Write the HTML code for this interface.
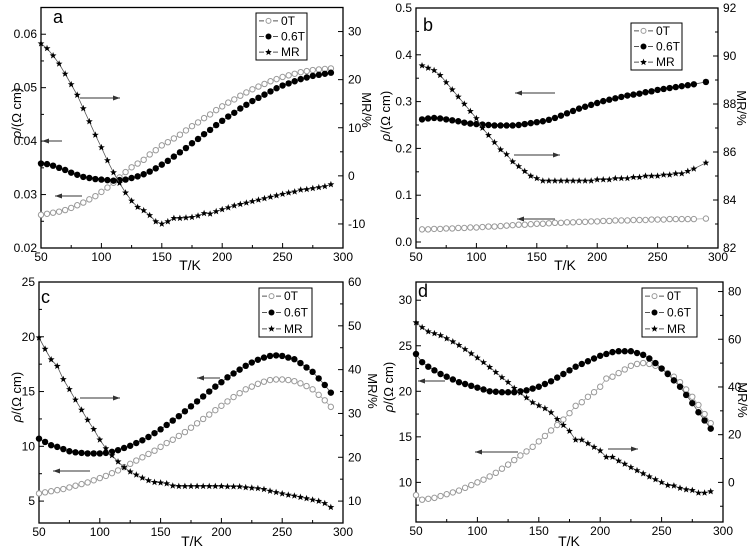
<!DOCTYPE html>
<html><head><meta charset="utf-8"><style>
html,body{margin:0;padding:0;background:#fff;}
svg{display:block;font-family:"Liberation Sans",sans-serif;}
</style></head><body>
<svg id="fig" width="751" height="550" viewBox="0 0 751 550" xmlns="http://www.w3.org/2000/svg"></svg>
<script>
const T_A=[50,55,60,65,70,75,80,85,90,95,100,105,110,115,120,125,130,135,140,145,150,155,160,165,170,175,180,185,190,195,200,205,210,215,220,225,230,235,240,245,250,255,260,265,270,275,280,285,290];
const A_0T=[.0262,.0264,.0266,.0268,.0271,.0275,.0280,.0285,.0291,.0297,.0305,.0313,.0322,.0332,.0342,.0351,.0358,.0365,.0375,.0383,.0392,.0398,.0405,.0412,.0420,.0428,.0435,.0443,.0450,.0458,.0465,.0472,.0478,.0485,.0491,.0497,.0502,.0507,.0512,.0516,.0520,.0523,.0526,.0529,.0531,.0533,.0534,.0535,.0536];
const A_06T=[.0358,.0357,.0354,.0350,.0346,.0341,.0337,.0333,.0331,.0329,.0328,.0327,.0326,.0327,.0328,.0331,.0334,.0338,.0343,.0349,.0356,.0363,.0371,.0379,.0387,.0396,.0404,.0413,.0421,.0430,.0438,.0446,.0453,.0461,.0468,.0475,.0481,.0487,.0493,.0499,.0504,.0508,.0512,.0516,.0519,.0522,.0524,.0526,.0528];
const A_MR=[27.5,26.5,25,23.3,21.2,19,16.8,14,11.3,8.5,5.9,3.2,0.7,-1.5,-3.5,-5.2,-6.5,-7.2,-8.2,-9.5,-10,-9.5,-8.8,-8.8,-8.7,-8.6,-8.3,-7.8,-7.9,-7.4,-7.0,-6.6,-6.2,-5.9,-5.6,-5.3,-5.0,-4.7,-4.4,-4.1,-3.8,-3.5,-3.3,-2.9,-2.8,-2.6,-2.4,-2.2,-1.8];

const T_B=[55,60,65,70,75,80,85,90,95,100,105,110,115,120,125,130,135,140,145,150,155,160,165,170,175,180,185,190,195,200,205,210,215,220,225,230,235,240,245,250,255,260,265,270,275,280,290];
const B_0T=[.027,.027,.028,.028,.029,.029,.030,.030,.031,.031,.032,.033,.033,.034,.035,.036,.037,.037,.038,.039,.039,.040,.041,.041,.042,.042,.043,.043,.044,.044,.045,.045,.046,.046,.046,.047,.047,.047,.048,.048,.048,.049,.049,.049,.049,.049,.050];
const B_06T=[.262,.264,.265,.264,.262,.260,.258,.255,.253,.252,.251,.250,.249,.249,.249,.249,.250,.252,.254,.256,.258,.261,.265,.270,.275,.280,.285,.289,.293,.297,.301,.304,.307,.310,.313,.315,.317,.320,.322,.325,.327,.329,.331,.333,.335,.337,.342];
const B_MR=[89.6,89.5,89.4,89.2,88.9,88.6,88.3,88.0,87.7,87.4,87.0,86.7,86.4,86.1,85.9,85.6,85.4,85.2,85.0,84.9,84.8,84.8,84.8,84.8,84.8,84.8,84.8,84.8,84.8,84.85,84.85,84.85,84.9,84.9,84.9,84.95,84.95,85.0,85.0,85.0,85.05,85.05,85.1,85.1,85.2,85.3,85.55];

const T_C=T_A;
const C_0T=[5.7,5.8,5.9,6.0,6.1,6.25,6.4,6.55,6.7,6.9,7.1,7.3,7.55,7.8,8.1,8.4,8.7,9.0,9.3,9.6,9.95,10.3,10.6,10.95,11.3,11.7,12.1,12.5,12.9,13.3,13.7,14.1,14.5,14.85,15.2,15.45,15.7,15.9,16.05,16.1,16.1,16.05,15.95,15.75,15.5,15.2,14.7,14.2,13.6];
const C_06T=[10.7,10.4,10.1,9.95,9.75,9.55,9.45,9.4,9.35,9.35,9.35,9.4,9.5,9.65,9.85,10.05,10.3,10.55,10.85,11.2,11.55,11.95,12.35,12.75,13.2,13.65,14.1,14.55,15.0,15.45,15.85,16.3,16.65,17.0,17.35,17.65,17.9,18.1,18.25,18.3,18.25,18.1,17.95,17.6,17.2,16.8,16.2,15.6,14.9];
const C_MR=[47.3,44.7,42.3,40.8,37.8,35.5,33.1,30.8,28.5,26.4,24,22,20.4,19,17.7,16.7,16,15.3,14.7,14.3,14.2,14.0,13.5,13.4,13.4,13.4,13.4,13.4,13.4,13.4,13.4,13.3,13.3,13.3,13.1,13.0,12.9,12.7,12.3,12.0,11.7,11.4,11.2,10.9,10.6,10.3,10.0,9.5,8.6];

const T_D=T_A;
const D_0T=[8.6,8.1,8.2,8.3,8.5,8.7,8.9,9.1,9.4,9.7,10.0,10.3,10.65,11.05,11.5,11.95,12.45,12.95,13.4,13.9,14.5,15.1,15.7,16.3,16.9,17.6,18.4,18.8,19.4,19.9,20.5,21.4,21.6,22.0,22.4,22.8,23.0,23.1,23.0,22.8,22.5,22.0,21.6,21.0,20.2,19.4,18.5,17.5,16.5];
const D_06T=[24.1,23.2,22.7,22.3,21.9,21.6,21.3,21.0,20.8,20.6,20.4,20.2,20.0,19.95,19.9,19.9,19.9,20.0,20.1,20.3,20.5,20.8,21.1,21.5,21.9,22.3,22.7,23.0,23.3,23.6,23.9,24.1,24.3,24.4,24.4,24.4,24.2,24.0,23.6,23.1,22.5,21.9,21.2,20.5,19.6,18.7,17.7,16.8,15.9];
const D_MR=[67,65,63.2,62.4,61.6,60.3,59,57.5,55.8,54,52.2,50.3,48.3,46.2,44,42,39.5,37.5,35.5,33.5,32.2,31,29.3,26.5,24,21.5,17.8,17.8,16.3,14.8,13.3,10.6,10.6,9.0,7.7,6.3,5.0,3.7,2.4,1.2,0,-1.2,-1.4,-2.4,-3.0,-3.3,-4.4,-4.4,-3.8];

const XTICKS=[50,100,150,200,250,300];
const A_LT=[0.02,0.03,0.04,0.05,0.06], A_RT=[-10,0,10,20,30];
const B_LT=[0.0,0.1,0.2,0.3,0.4,0.5], B_RT=[82,84,86,88,90,92];
const C_LT=[5,10,15,20,25], C_RT=[10,20,30,40,50,60];
const D_LT=[10,15,20,25,30], D_RT=[0,20,40,60,80];

const NS="http://www.w3.org/2000/svg";
const svg=document.getElementById('fig');
function mk(tag,attrs,parent){const e=document.createElementNS(NS,tag);for(const k in attrs)e.setAttribute(k,attrs[k]);(parent||svg).appendChild(e);return e;}
function txt(s,x,y,size,anchor,parent,rot){const t=mk('text',{x:x,y:y,'font-size':size,'text-anchor':anchor||'middle',fill:'#000'},parent);if(rot)t.setAttribute('transform','rotate('+rot+' '+x+' '+y+')');t.textContent=s;return t;}
function star(cx,cy,r){let p=[];for(let i=0;i<10;i++){const a=-Math.PI/2+i*Math.PI/5;const rr=i%2?r*0.42:r;p.push((cx+rr*Math.cos(a)).toFixed(1)+','+(cy+rr*Math.sin(a)).toFixed(1));}return p.join(' ');}

function panel(o){
  const g=mk('g',{});
  
  
  const L=o.box[0],R=o.box[1],Tp=o.box[2],B=o.box[3];
  const sx=v=>L+(v-50)/250*(R-L);
  const syl=v=>B-(v-o.yl[0])/(o.yl[1]-o.yl[0])*(B-Tp);
  const syr=v=>B-(v-o.yr[0])/(o.yr[1]-o.yr[0])*(B-Tp);
  const fr=mk('rect',{x:L,y:Tp,width:R-L,height:B-Tp,fill:'none',stroke:'#000','stroke-width':1.3},g);
  
  for(let v=50;v<=300;v+=25){const x=sx(v);const len=(v%50===0)?5:3;mk('line',{x1:x,y1:B,x2:x,y2:B-len,stroke:'#000','stroke-width':1},g);}
  XTICKS.forEach(v=>{const t=txt(String(v),sx(v),B+13,12,'middle',g);});
  const xt=txt('T/K',o.xtitle[0],o.xtitle[1],14,'middle',g);
  const lstep=o.lt[1]-o.lt[0];
  for(let v=o.lt[0]-lstep;v<=o.yl[1]+1e-9;v+=lstep/2){if(v<o.yl[0]-1e-9)continue;const y=syl(v);const maj=Math.abs(((v-o.lt[0])/lstep)-Math.round((v-o.lt[0])/lstep))<1e-6;mk('line',{x1:L,y1:y,x2:L+(maj?5:3),y2:y,stroke:'#000','stroke-width':1},g);}
  o.lt.forEach(v=>{const t=txt(o.lfmt(v),L-4,syl(v)+4,12,'end',g);});
  const rstep=o.rt[1]-o.rt[0];
  for(let v=o.rt[0]-rstep;v<=o.yr[1]+1e-9;v+=rstep/2){if(v<o.yr[0]-1e-9)continue;const y=syr(v);const maj=Math.abs(((v-o.rt[0])/rstep)-Math.round((v-o.rt[0])/rstep))<1e-6;mk('line',{x1:R,y1:y,x2:R-(maj?5:3),y2:y,stroke:'#000','stroke-width':1},g);}
  o.rt.forEach(v=>{const t=txt(String(v),R+5,syr(v)+4,12,'start',g);});
  const lt=mk('text',{x:o.ltitle[0],y:o.ltitle[1],'font-size':13,'text-anchor':'middle',transform:'rotate(-90 '+o.ltitle[0]+' '+o.ltitle[1]+')'},g);
  
  const ts=mk('tspan',{'font-style':'italic'},lt);ts.textContent='ρ';const ts2=mk('tspan',{},lt);ts2.textContent='/(Ω cm)';
  const rtt=txt('MR/%',o.rtitle[0],o.rtitle[1],13,'middle',g,90);
  const pl=txt(o.label,o.lpos[0],o.lpos[1],18,'start',g);
  function series(xs,ys,sy,kind,name){
    const sg=mk('g',{},g);
    const d=xs.map((t,i)=>(i?'L':'M')+sx(t).toFixed(1)+' '+sy(ys[i]).toFixed(1)).join(' ');
    mk('path',{d:d,fill:'none',stroke:kind==='open'?'#aaa':'#555','stroke-width':0.8},sg);
    xs.forEach((t,i)=>{const x=sx(t),y=sy(ys[i]);let m;
      if(kind==='open')m=mk('circle',{cx:x,cy:y,r:2.7,fill:'#fff',stroke:'#999','stroke-width':1},sg);
      else if(kind==='fill')m=mk('circle',{cx:x,cy:y,r:3.2,fill:'#000'},sg);
      else m=mk('polygon',{points:star(x,y,3.6),fill:'#000'},sg);
      });
  }
  series(o.T,o.s0,syl,'open','series-0T');
  series(o.T,o.s6,syl,'fill','series-0.6T');
  series(o.T,o.mr,syr,'star','series-MR');
  o.arrows.forEach(a=>{const ag=mk('g',{},g);
    mk('line',{x1:a[0],y1:a[2],x2:a[1],y2:a[2],stroke:'#333','stroke-width':1},ag);
    const dir=a[1]>a[0]?1:-1;mk('polygon',{points:a[1]+','+a[2]+' '+(a[1]-dir*7)+','+(a[2]-2.5)+' '+(a[1]-dir*7)+','+(a[2]+2.5),fill:'#333'},ag);});
  const lg=mk('g',{},g);
  const [lx,ly,lw,lh]=o.leg;
  mk('rect',{x:lx,y:ly,width:lw,height:lh,fill:'#fff',stroke:'#000','stroke-width':1},lg);
  [['0T','open'],['0.6T','fill'],['MR','star']].forEach((e,i)=>{const eg=mk('g',{},lg);
    const y=ly+lh*(i+0.5)/3;mk('line',{x1:lx+3,y1:y,x2:lx+22,y2:y,stroke:'#555','stroke-width':1,'stroke-dasharray':'5,2'},eg);
    const cx=lx+12.5;
    if(e[1]==='open')mk('circle',{cx:cx,cy:y,r:2.5,fill:'#fff',stroke:'#999'},eg);
    else if(e[1]==='fill')mk('circle',{cx:cx,cy:y,r:3,fill:'#000'},eg);
    else mk('polygon',{points:star(cx,y,3.6),fill:'#000'},eg);
    txt(e[0],lx+25,y+4,12,'start',eg);});
}

panel({label:'a',box:[41,343,7.5,248],yl:[0.02,0.065],yr:[-15,35],lt:A_LT,rt:A_RT,lfmt:v=>v.toFixed(2),
  T:T_A,s0:A_0T,s6:A_06T,mr:A_MR,xtitle:[190,270],ltitle:[21,113],rtitle:[362,110],lpos:[53,23],
  arrows:[[80,120,98],[62,42,141],[82,55,196]],leg:[256,13,51,47]});
panel({label:'b',box:[416,718,8,248],yl:[-0.0128,0.5],yr:[82,92],lt:B_LT,rt:B_RT,lfmt:v=>v.toFixed(1),
  T:T_B,s0:B_0T,s6:B_06T,mr:B_MR,xtitle:[565,270],ltitle:[390,116],rtitle:[737,108],lpos:[423,31],
  arrows:[[555,515,93],[514,560,155],[555,517,219]],leg:[631,23,51,47]});
panel({label:'c',box:[39,343,282,523],yl:[3,25],yr:[5,60],lt:C_LT,rt:C_RT,lfmt:v=>String(v),
  T:T_C,s0:C_0T,s6:C_06T,mr:C_MR,xtitle:[192,546],ltitle:[21,397],rtitle:[368,391],lpos:[41,303],
  arrows:[[220,197,378],[80,120,398],[90,53,471]],leg:[259,288,53,49]});
panel({label:'d',box:[416,723,282,522],yl:[5.65,32],yr:[-16.6,84],lt:D_LT,rt:D_RT,lfmt:v=>String(v),
  T:T_D,s0:D_0T,s6:D_06T,mr:D_MR,xtitle:[569,546],ltitle:[393,387],rtitle:[738,400],lpos:[418,297],
  arrows:[[445,418,381],[518,475,452],[608,638,449]],leg:[642,288,55,49]});
</script>
</body></html>
